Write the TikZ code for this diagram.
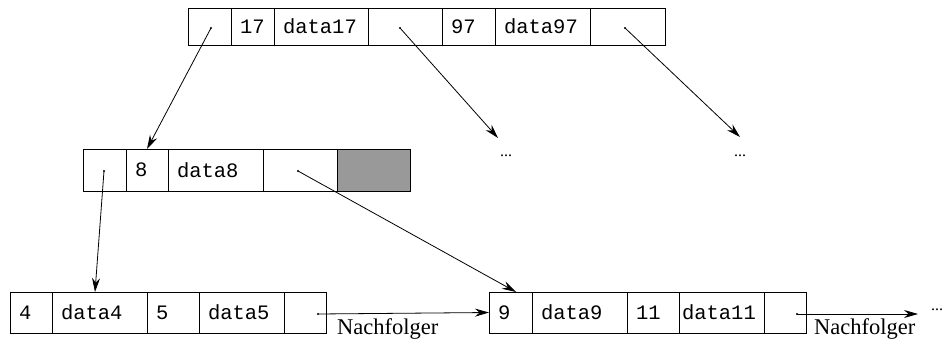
\documentclass[tikz,border=0pt]{standalone}
\usepackage{fontspec}
\setmainfont{Liberation Serif}
\setmonofont{Liberation Mono}
\usetikzlibrary{arrows.meta,calc}
\begin{document}
\begin{tikzpicture}[x=1pt,y=-1pt,
  cell/.style={draw, line width=0.8pt, anchor=north west, inner ysep=0pt, inner xsep=9pt,
     outer sep=0pt, minimum width=#1, text width=#1-18pt, align=left,
     font=\ttfamily\fontsize{20.5}{20.5}\selectfont},
  ptr/.style={-{Stealth[length=14pt,width=8pt]}, line width=0.8pt},
  pdot/.style={fill, circle, inner sep=0pt, minimum size=2.2pt},
  ell/.style={inner sep=0pt, font=\fontsize{16}{16}\selectfont},
  succ/.style={inner sep=0pt, anchor=west, font=\fontsize{22.5}{22.5}\selectfont}]
\useasboundingbox (0,0) rectangle (944,345);
% top node
\node[cell=43, minimum height=37] (t1) at (188,8) {};
\node[cell=43, minimum height=37] (t2) at (231,8) {17};
\node[cell=94, minimum height=37] (t3) at (274,8) {data17};
\node[cell=74, minimum height=37] (t4) at (368,8) {};
\node[cell=53, minimum height=37] (t5) at (442,8) {97};
\node[cell=95, minimum height=37] (t6) at (495,8) {data97};
\node[cell=75, minimum height=37] (t7) at (590,8) {};
% middle node
\node[cell=43, minimum height=42] (m1) at (83,149) {};
\node[cell=42, minimum height=42] (m2) at (126,149) {8};
\node[cell=95, minimum height=42] (m3) at (168,149) {data8};
\node[cell=74, minimum height=42] (m4) at (263,149) {};
\node[cell=73, minimum height=42, fill=black!40] (m5) at (337,149) {};
% bottom left leaf
\node[cell=42, minimum height=41] (l1) at (10,292) {4};
\node[cell=95, minimum height=41] (l2) at (52,292) {data4};
\node[cell=52, minimum height=41] (l3) at (147,292) {5};
\node[cell=85, minimum height=41] (l4) at (199,292) {data5};
\node[cell=42, minimum height=41] (l5) at (284,292) {};
% bottom right leaf
\node[cell=43, minimum height=41] (r1) at (489,292) {9};
\node[cell=95, minimum height=41] (r2) at (532,292) {data9};
\node[cell=52, minimum height=41] (r3) at (627,292) {11};
\node[cell=85, minimum height=41, inner xsep=3pt, text width=79pt] (r4) at (679,292) {data11};
\node[cell=42, minimum height=41] (r5) at (764,292) {};
% pointer dots
\node[pdot] (d1) at (211,28) {};
\node[pdot] (d2) at (400,28) {};
\node[pdot] (d3) at (625,28) {};
\node[pdot] (d4) at (104,171) {};
\node[pdot] (d5) at (298,171) {};
\node[pdot] (d6) at (318,314) {};
\node[pdot] (d7) at (797,314) {};
% ellipses and labels
\node[ell] (e1) at (506,156) {...};
\node[ell] (e2) at (740,156) {...};
\node[ell] (e3) at (937,310) {...};
\node[succ] (n1) at (337,329) {Nachfolger};
\node[succ] (n2) at (814,329) {Nachfolger};
% arrow tips
\coordinate (a2) at (498,138);
\coordinate (a3) at (740,137);
\coordinate (a4) at (95,292);
\coordinate (a5) at (516,292);
\coordinate (a7) at (918,314);
% connectors
\draw[ptr] (d1.center) -- (m2.north);
\draw[ptr] (d2.center) -- (a2);
\draw[ptr] (d3.center) -- (a3);
\draw[ptr] (d4.center) -- (a4);
\draw[ptr] (d5.center) -- (a5);
\draw[ptr] (d6.center) -- (r1.west);
\draw[ptr] (d7.center) -- (a7);
\end{tikzpicture}
\end{document}
